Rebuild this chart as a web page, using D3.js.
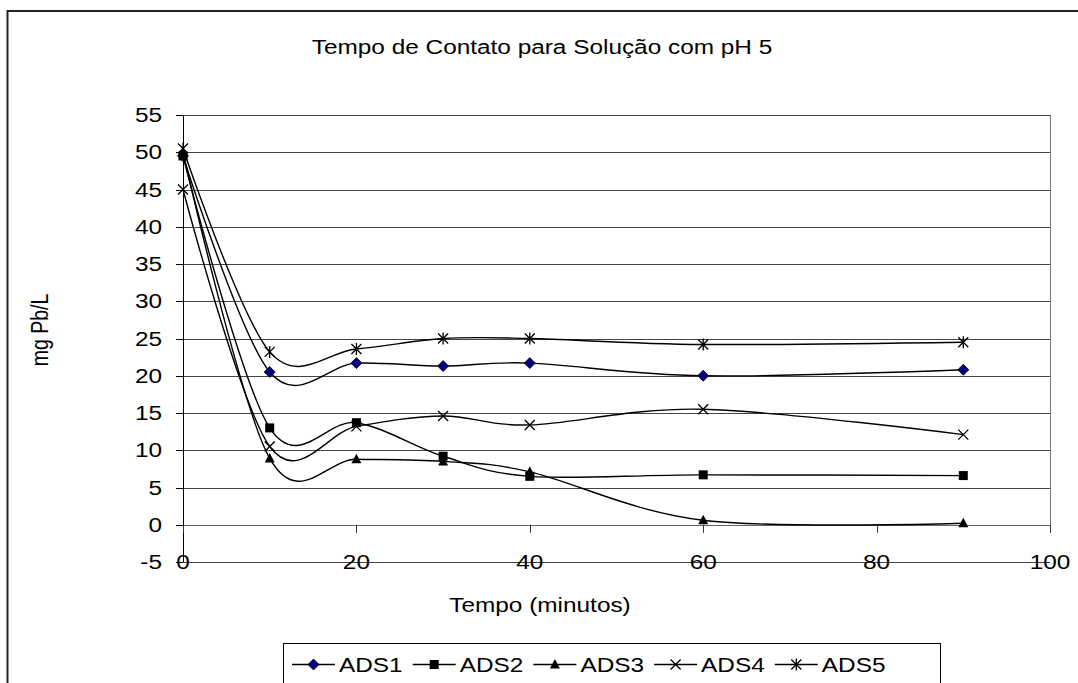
<!DOCTYPE html>
<html><head><meta charset="utf-8">
<script src="https://cdn.jsdelivr.net/npm/d3@7"></script>
<style>body{margin:0;background:#fff}svg{display:block}text{font-family:"Liberation Sans",Arial,sans-serif;fill:#000}</style>
</head><body><svg id="c" width="1078" height="683"></svg>
<script>
const times = [0, 10, 20, 30, 40, 60, 90];
const ads1 = [49.5, 20.5, 21.7, 21.3, 21.7, 20.0, 20.8];
const ads2 = [49.5, 13.0, 13.7, 9.2, 6.5, 6.7, 6.6];
const ads3 = [50.0, 8.9, 8.8, 8.5, 7.1, 0.6, 0.2];
const ads4 = [45.0, 10.5, 13.2, 14.6, 13.4, 15.5, 12.1];
const ads5 = [50.5, 23.2, 23.6, 25.0, 25.0, 24.2, 24.5];
const seriesNames = ["ADS1", "ADS2", "ADS3", "ADS4", "ADS5"];
const markers = ["diamond", "square", "triangle", "x", "star"];
const yTicks = [-5, 0, 5, 10, 15, 20, 25, 30, 35, 40, 45, 50, 55];
const xTicks = [0, 20, 40, 60, 80, 100];
const title = "Tempo de Contato para Solução com pH 5";
const xTitle = "Tempo (minutos)";
const yTitle = "mg Pb/L";

const seriesValues = [ads1, ads2, ads3, ads4, ads5];
const svg = d3.select("#c");
const FS = 19.5, SX = 1.25;

const x = d3.scaleLinear().domain([0, 100]).range([183, 1050]);
const y = d3.scaleLinear().domain([-5, 55]).range([562, 115]);

function txt(g, s, tx, ty, anchor, rot) {
  return g.append("text")
    .attr("transform", `translate(${tx},${ty}) scale(${SX},1)` + (rot ? ` rotate(${rot})` : ""))
    .attr("text-anchor", anchor || "middle")
    .attr("font-size", FS)
    .text(s);
}

// outer frame
svg.append("rect").attr("x", 7.5).attr("y", 11).attr("width", 1200).attr("height", 800)
  .attr("fill", "none").attr("stroke", "#222").attr("stroke-width", 2);

txt(svg, title, 542, 54);

// gridlines
svg.append("g").selectAll("line").data(yTicks).join("line")
  .attr("x1", x(0)).attr("x2", x(100))
  .attr("y1", d => Math.round(y(d)) + 0.5).attr("y2", d => Math.round(y(d)) + 0.5)
  .attr("stroke", d => d === 0 ? "#666" : "#444").attr("stroke-width", 1);

// right plot border
svg.append("line").attr("x1", x(100) + 0.5).attr("x2", x(100) + 0.5)
  .attr("y1", y(55)).attr("y2", y(0) + 8).attr("stroke", "#777");

// y axis
svg.append("line").attr("x1", x(0) + 0.5).attr("x2", x(0) + 0.5)
  .attr("y1", y(55)).attr("y2", y(-5)).attr("stroke", "#000");
const yAx = svg.append("g");
yAx.selectAll("line").data(yTicks).join("line")
  .attr("x1", x(0) - 7).attr("x2", x(0))
  .attr("y1", d => Math.round(y(d)) + 0.5).attr("y2", d => Math.round(y(d)) + 0.5)
  .attr("stroke", "#000");
yTicks.forEach(d => txt(yAx, String(d), 162, y(d) + 7, "end"));

// x axis ticks (axis at 0) and labels at the bottom
const xAx = svg.append("g");
xAx.selectAll("line").data(xTicks).join("line")
  .attr("x1", d => Math.round(x(d)) + 0.5).attr("x2", d => Math.round(x(d)) + 0.5)
  .attr("y1", y(0)).attr("y2", y(0) + 8).attr("stroke", "#333");
xTicks.forEach(d => txt(xAx, String(d), x(d), y(-5) + 7));

txt(svg, xTitle, 540, 612);
txt(svg, yTitle, 48, 330, "middle", -90);

// series
const line = d3.line().x(d => x(d[0])).y(d => y(d[1])).curve(d3.curveCardinal.tension(0));
function drawMarker(g, type, cx, cy) {
  if (type === "diamond") {
    g.append("path").attr("d", `M${cx},${cy-5.5}L${cx+5.5},${cy}L${cx},${cy+5.5}L${cx-5.5},${cy}Z`)
      .attr("fill", "#000080").attr("stroke", "#000").attr("stroke-width", 0.8);
  } else if (type === "square") {
    g.append("rect").attr("x", cx - 4.5).attr("y", cy - 4.5).attr("width", 9).attr("height", 9).attr("fill", "#000");
  } else if (type === "triangle") {
    g.append("path").attr("d", `M${cx},${cy-5.5}L${cx+5},${cy+4}L${cx-5},${cy+4}Z`).attr("fill", "#000");
  } else if (type === "x") {
    g.append("path").attr("d", `M${cx-5},${cy-5}L${cx+5},${cy+5}M${cx-5},${cy+5}L${cx+5},${cy-5}`)
      .attr("stroke", "#000").attr("stroke-width", 1.3);
  } else {
    g.append("path").attr("d", `M${cx-5},${cy-5}L${cx+5},${cy+5}M${cx-5},${cy+5}L${cx+5},${cy-5}M${cx},${cy-6}L${cx},${cy+6}`)
      .attr("stroke", "#000").attr("stroke-width", 1.3);
  }
}
seriesValues.forEach((vals, i) => {
  const pts = times.map((t, j) => [t, vals[j]]);
  const g = svg.append("g");
  g.append("path").attr("d", line(pts)).attr("fill", "none").attr("stroke", "#000").attr("stroke-width", 1.4);
  pts.forEach(p => drawMarker(g, markers[i], x(p[0]), y(p[1])));
});

// legend
const lg = svg.append("g");
lg.append("rect").attr("x", 283.5).attr("y", 643.5).attr("width", 657).attr("height", 60)
  .attr("fill", "#fff").attr("stroke", "#000");
seriesNames.forEach((n, i) => {
  const lx = 292 + i * 120.7, ly = 664.5;
  lg.append("line").attr("x1", lx).attr("x2", lx + 43).attr("y1", ly).attr("y2", ly).attr("stroke", "#000").attr("stroke-width", 1.4);
  drawMarker(lg, markers[i], lx + 21.5, ly);
  txt(lg, n, lx + 47, ly + 7, "start");
});
</script></body></html>
